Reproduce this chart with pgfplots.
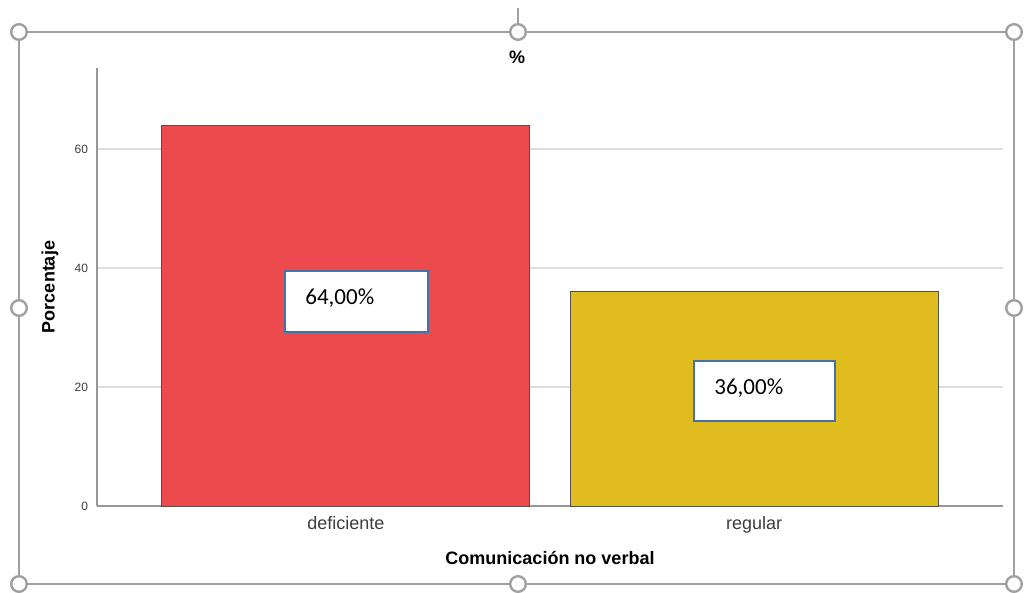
\documentclass[border=0pt]{standalone}
\usepackage{pgfplots}
\pgfplotsset{compat=1.18}
\usepackage{fontspec}
\setmainfont{Liberation Sans}
\newfontfamily\calibri{Carlito}
\definecolor{barred}{RGB}{236,74,76}
\definecolor{bargold}{RGB}{224,188,30}
\definecolor{bardraw}{RGB}{80,80,80}
\definecolor{framegray}{RGB}{160,160,160}
\definecolor{axisgray}{RGB}{150,150,150}
\definecolor{gridgray}{RGB}{222,222,222}
\definecolor{boxblue}{RGB}{68,114,168}
\definecolor{ticktext}{RGB}{60,60,60}

\begin{document}
\begin{tikzpicture}
% pixel grid of the reference: 1 px = 0.5pt, y downwards
\begin{scope}[x=0.5pt,y=-0.5pt]
\useasboundingbox (0,0) rectangle (1024,593);
% selection frame
\draw[framegray, line width=1pt] (19,32) rectangle (1014,584);
\draw[framegray, line width=1pt] (518,8) -- (518,24);
\end{scope}

\begin{axis}[
    at={(48.5pt,-253pt)}, anchor=south west,
    scale only axis,
    width=453pt, height=219pt,
    xmin=-0.61, xmax=1.61,
    ymin=0, ymax=73.6,
    axis x line*=bottom, axis y line*=left,
    axis line style={axisgray, line width=0.8pt, -},
    xtick={0,1}, xticklabels={deficiente, regular},
    ytick={0,20,40,60},
    major tick length=0pt,
    ymajorgrids=true,
    grid style={gridgray, line width=0.9pt},
    /pgf/number format/assume math mode=true,
    xticklabel style={font=\fontsize{9}{10}\selectfont, text=ticktext, yshift=-1.5pt},
    yticklabel style={font=\fontsize{6}{7}\selectfont, text=ticktext, xshift=-1pt},
    ybar, bar width=184pt, bar shift=0pt,
    xlabel={Comunicación no verbal},
    xlabel style={at={(axis description cs:0.5,-0.119)}, anchor=center, font=\bfseries\fontsize{9}{10}\selectfont},
    ylabel={Porcentaje},
    ylabel style={at={(axis description cs:-0.052,0.5)}, anchor=center, font=\bfseries\fontsize{9}{10}\selectfont},
    clip=false,
]
\addplot[fill=barred, draw=bardraw, line width=0.5pt] coordinates {(0,64)};
\addplot[fill=bargold, draw=bardraw, line width=0.5pt] coordinates {(1,36)};
\end{axis}

\begin{scope}[x=0.5pt,y=-0.5pt]
% chart title
\node[font=\bfseries\fontsize{9}{10}\selectfont] at (517,57) {\%};
% value boxes
\node[draw=boxblue, line width=1pt, fill=white, minimum width=71.5pt, minimum height=30.5pt, inner sep=0pt] at (356.5,301.5) {};
\node[anchor=base west, inner sep=0pt, font=\calibri\fontsize{11.5}{13}\selectfont] at (305,305) {64,00\%};
\node[draw=boxblue, line width=1pt, fill=white, minimum width=70.5pt, minimum height=30pt, inner sep=0pt] at (764.5,391) {};
\node[anchor=base west, inner sep=0pt, font=\calibri\fontsize{11.5}{13}\selectfont] at (714,395) {36,00\%};
% handles
\foreach \p in {(19,32),(518,32),(1014,32),(19,308),(1014,308),(19,584),(518,584),(1014,584)}
  \draw[framegray, line width=1.2pt, fill=white] \p circle[radius=3.9pt];
\end{scope}
\end{tikzpicture}
\end{document}
